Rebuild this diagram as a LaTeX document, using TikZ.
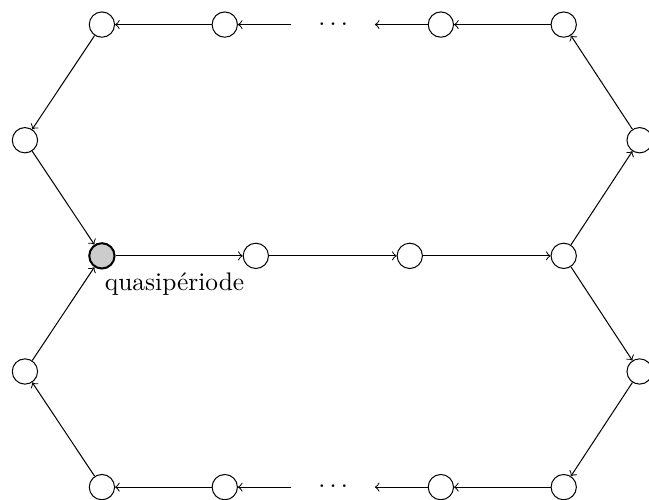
\documentclass[tikz,border=0pt]{standalone}

\begin{document}
\begin{tikzpicture}[sommet/.style={draw,circle,minimum size=0.35cm,inner sep=0pt},
   quasi/.style={sommet,fill=gray!40,thick},
   points/.style={minimum width=1.14cm,inner sep=0pt},
   every edge/.style={draw,->}]
\useasboundingbox (-1.41,-3.375) rectangle (7.57,3.54);
% ligne du milieu
\node[quasi] (q) at (0,0) {};
\node[anchor=north west,inner sep=1pt] (lq) at (q.south) {quasipériode};
\node[sommet] (m2) at (2.13,0) {};
\node[sommet] (m3) at (4.26,0) {};
\node[sommet] (m4) at (6.39,0) {};
% boucle du haut
\node[sommet] (h1) at (0,3.2) {};
\node[sommet] (h2) at (1.70,3.2) {};
\node[points] (hd) at (3.20,3.2) {$\cdots$};
\node[sommet] (h4) at (4.69,3.2) {};
\node[sommet] (h5) at (6.39,3.2) {};
\node[sommet] (g1) at (-1.065,1.6) {};
\node[sommet] (d1) at (7.44,1.6) {};
% boucle du bas
\node[sommet] (b1) at (0,-3.2) {};
\node[sommet] (b2) at (1.70,-3.2) {};
\node[points] (bd) at (3.20,-3.2) {$\cdots$};
\node[sommet] (b4) at (4.69,-3.2) {};
\node[sommet] (b5) at (6.39,-3.2) {};
\node[sommet] (g2) at (-1.065,-1.6) {};
\node[sommet] (d2) at (7.44,-1.6) {};

\path (q) edge (m2)
      (m2) edge (m3)
      (m3) edge (m4)
      (m4) edge (d1)
      (d1) edge (h5)
      (h5) edge (h4)
      (h4) edge (hd)
      (hd) edge (h2)
      (h2) edge (h1)
      (h1) edge (g1)
      (g1) edge (q)
      (m4) edge (d2)
      (d2) edge (b5)
      (b5) edge (b4)
      (b4) edge (bd)
      (bd) edge (b2)
      (b2) edge (b1)
      (b1) edge (g2)
      (g2) edge (q);
\end{tikzpicture}
\end{document}
